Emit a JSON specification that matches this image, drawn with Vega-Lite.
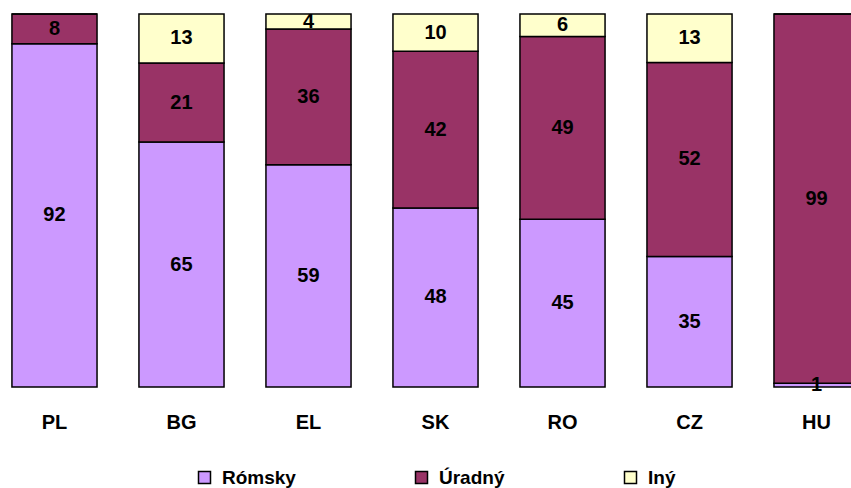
{
  "$schema": "https://vega.github.io/schema/vega-lite/v6.json",
  "width": 871,
  "height": 373,
  "autosize": {"type": "none"},
  "padding": {"left": 0, "top": 14, "right": 0, "bottom": 101},
  "background": "white",
  "config": {
    "view": {"stroke": null},
    "font": "Liberation Sans"
  },
  "data": {
    "values": [
      {"country": "PL", "cat": "Rómsky", "k": 1, "value": 92},
      {"country": "PL", "cat": "Úradný", "k": 2, "value": 8},
      {"country": "PL", "cat": "Iný", "k": 3, "value": 0},
      {"country": "BG", "cat": "Rómsky", "k": 1, "value": 65},
      {"country": "BG", "cat": "Úradný", "k": 2, "value": 21},
      {"country": "BG", "cat": "Iný", "k": 3, "value": 13},
      {"country": "EL", "cat": "Rómsky", "k": 1, "value": 59},
      {"country": "EL", "cat": "Úradný", "k": 2, "value": 36},
      {"country": "EL", "cat": "Iný", "k": 3, "value": 4},
      {"country": "SK", "cat": "Rómsky", "k": 1, "value": 48},
      {"country": "SK", "cat": "Úradný", "k": 2, "value": 42},
      {"country": "SK", "cat": "Iný", "k": 3, "value": 10},
      {"country": "RO", "cat": "Rómsky", "k": 1, "value": 45},
      {"country": "RO", "cat": "Úradný", "k": 2, "value": 49},
      {"country": "RO", "cat": "Iný", "k": 3, "value": 6},
      {"country": "CZ", "cat": "Rómsky", "k": 1, "value": 35},
      {"country": "CZ", "cat": "Úradný", "k": 2, "value": 52},
      {"country": "CZ", "cat": "Iný", "k": 3, "value": 13},
      {"country": "HU", "cat": "Rómsky", "k": 1, "value": 1},
      {"country": "HU", "cat": "Úradný", "k": 2, "value": 99},
      {"country": "HU", "cat": "Iný", "k": 3, "value": 0}
    ]
  },
  "encoding": {
    "x": {
      "field": "country",
      "type": "nominal",
      "sort": ["PL", "BG", "EL", "SK", "RO", "CZ", "HU"],
      "scale": {"paddingInner": 0.33, "paddingOuter": 0.094},
      "axis": {
        "title": null,
        "domain": false,
        "ticks": false,
        "labelAngle": 0,
        "labelFont": "Liberation Sans",
        "labelFontSize": 20,
        "labelFontWeight": "bold",
        "labelColor": "black",
        "labelPadding": 25
      }
    }
  },
  "layer": [
    {
      "mark": {"type": "bar", "stroke": "black", "strokeWidth": 1.5},
      "encoding": {
        "y": {
          "field": "value",
          "type": "quantitative",
          "stack": "normalize",
          "scale": {"domain": [0, 1], "nice": false},
          "axis": null
        },
        "color": {
          "field": "cat",
          "type": "nominal",
          "sort": ["Rómsky", "Úradný", "Iný"],
          "scale": {
            "domain": ["Rómsky", "Úradný", "Iný"],
            "range": ["#CC99FF", "#993366", "#FFFFCC"]
          },
          "legend": {
            "title": null,
            "orient": "none",
            "direction": "horizontal",
            "legendX": 195,
            "legendY": 454,
            "symbolType": "square",
            "symbolSize": 144,
            "symbolStrokeColor": "black",
            "symbolStrokeWidth": 1.5,
            "symbolOpacity": 1,
            "labelFont": "Liberation Sans",
            "labelFontSize": 19,
            "labelFontWeight": "bold",
            "labelColor": "black",
            "labelOffset": 8,
            "columnPadding": 116,
            "gridAlign": "none",
            "padding": 0
          }
        },
        "order": {"field": "k", "type": "quantitative"}
      }
    },
    {
      "transform": [
        {"joinaggregate": [{"op": "sum", "field": "value", "as": "total"}], "groupby": ["country"]},
        {"window": [{"op": "sum", "field": "value", "as": "cum"}], "groupby": ["country"], "sort": [{"field": "k"}], "frame": [null, 0]},
        {"calculate": "(datum.cum - datum.value / 2) / datum.total", "as": "mid"},
        {"filter": "datum.value > 0"}
      ],
      "mark": {
        "type": "text",
        "font": "Liberation Sans",
        "fontSize": 20,
        "fontWeight": "bold",
        "color": "black",
        "baseline": "middle"
      },
      "encoding": {
        "y": {"field": "mid", "type": "quantitative"},
        "text": {"field": "value", "type": "quantitative"}
      }
    }
  ]
}
